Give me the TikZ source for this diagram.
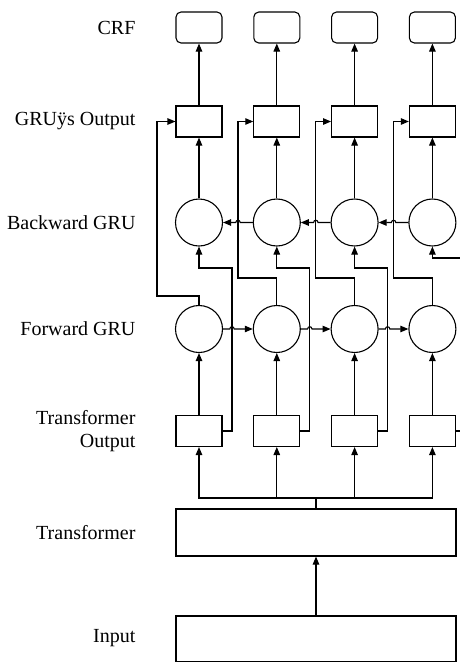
\documentclass[tikz,border=0pt]{standalone}
\usepackage{fontspec}
\setmainfont{Liberation Serif}
\usetikzlibrary{arrows.meta}

\begin{document}
\begin{tikzpicture}[x=1pt, y=-1pt, line width=1.1pt, >={Triangle[length=8pt,width=6.5pt]},
  box/.style={draw, minimum width=46pt, minimum height=31pt, inner sep=0pt},
  crfbox/.style={box, rounded corners=5pt},
  gru/.style={draw, circle, minimum size=47pt, inner sep=0pt},
  widebox/.style={draw, minimum width=280pt, inner sep=0pt},
  lbl/.style={anchor=east, align=right, inner sep=0pt, font=\fontsize{20}{23}\selectfont}]
  \useasboundingbox (0,0) rectangle (460,662);
  % row labels
  \node[lbl] (lcrf)   at (136,27.5)  {CRF};
  \node[lbl] (lgout)  at (136,121.5) {GRUÿs Output};
  \node[lbl] (lbgru)  at (136,222.5) {Backward GRU};
  \node[lbl] (lfgru)  at (136,329)   {Forward GRU};
  \node[lbl] (ltout)  at (136,431)   {Transformer\\Output};
  \node[lbl] (ltrans) at (136,532.5) {Transformer};
  \node[lbl] (linput) at (136,638)   {Input};
  % shared blocks
  \node[widebox, minimum height=47pt] (trans) at (316,532.5) {};
  \node[widebox, minimum height=46pt] (input) at (316,639) {};
  \draw[->] (input.north) -- (trans.south);
  \coordinate (split) at (316,498);
  \draw (trans.north) -- (split);
  % one column per token
  \foreach \i in {1,...,4} {
    \pgfmathsetmacro\cx{199+77.8*(\i-1)}
    \node[crfbox] (crf\i)  at (\cx,27.5)  {};
    \node[box]    (gout\i) at (\cx,121.5) {};
    \node[gru]    (bgru\i) at (\cx,222.5) {};
    \node[gru]    (fgru\i) at (\cx,329)   {};
    \node[box]    (tout\i) at (\cx,431)   {};
    \draw[->] (split) -| (tout\i.south);
    \draw[->] (tout\i.north) -- (fgru\i.south);
    \draw[->] (bgru\i.north) -- (gout\i.south);
    \draw[->] (gout\i.north) -- (crf\i.south);
  }
  % forward GRU to GRU output
  \draw[->] (fgru1.north) |- (157,296) |- (gout1.west);
  \foreach \i in {2,3,4} {
    \pgfmathsetmacro\cx{199+77.8*(\i-1)}
    \draw[->] (fgru\i.north) |- (\cx-38.8,278) |- (gout\i.west);
  }
  % transformer output to backward GRU
  \foreach \i in {1,2,3} {
    \pgfmathsetmacro\cx{199+77.8*(\i-1)}
    \draw[->] (tout\i.east) -| (\cx+33,268) -| (bgru\i.south);
  }
  \draw[->] (tout4.east) -| (466,258) -| (bgru4.south);
  % recurrent links, hopping over crossing lines
  \foreach \i [evaluate=\i as \j using int(\i+1)] in {1,2,3} {
    \pgfmathsetmacro\hf{199+77.8*(\i-1)+33}
    \pgfmathsetmacro\hb{199+77.8*\i-38.8}
    \draw[->] (fgru\i.east) -- (\hf-2.2,329)
      .. controls (\hf-2.2,326) and (\hf+2.2,326) .. (\hf+2.2,329) -- (fgru\j.west);
    \draw[->] (bgru\j.west) -- (\hb+2.2,222.5)
      .. controls (\hb+2.2,219.5) and (\hb-2.2,219.5) .. (\hb-2.2,222.5) -- (bgru\i.east);
  }
\end{tikzpicture}
\end{document}
